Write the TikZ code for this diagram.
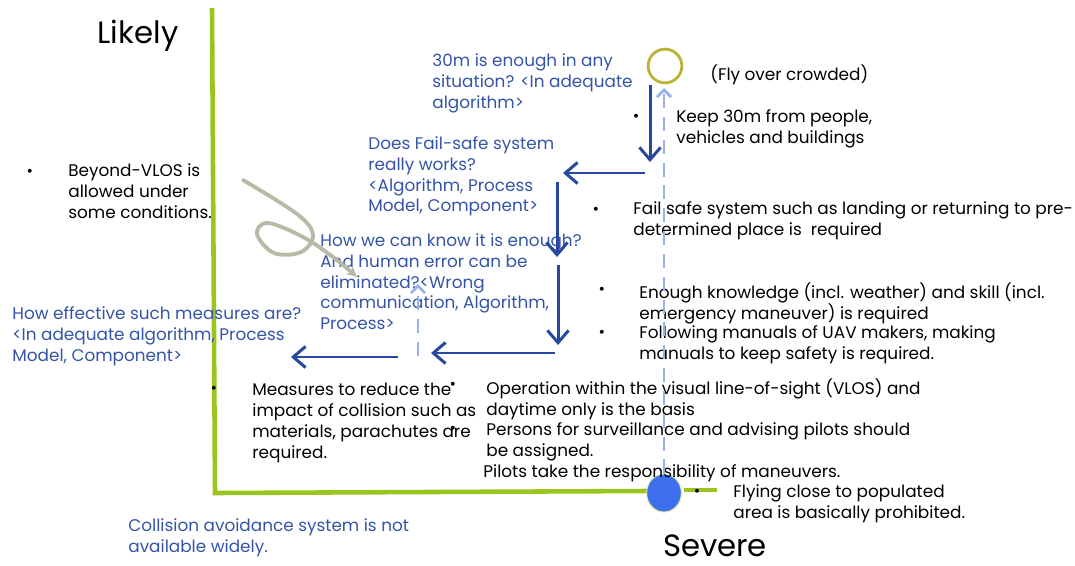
\documentclass[tikz,border=0pt]{standalone}
\usepackage{fontspec}
\setmainfont{Poppins}
\usepackage{tikz}
\usetikzlibrary{arrows.meta,calc,shapes.geometric}

\definecolor{axisgreen}{RGB}{155,197,30}
\definecolor{qblue}{RGB}{52,84,168}
\definecolor{darrow}{RGB}{40,72,160}
\definecolor{larrow}{RGB}{150,178,232}
\definecolor{loopgray}{RGB}{184,186,168}
\definecolor{dotblue}{RGB}{62,112,238}

\begin{document}
\begin{tikzpicture}[x=0.02cm, y=-0.02cm,
  txt/.style = {anchor=north west, inner sep=0pt, align=left, font=\fontsize{9.6}{11.9}\selectfont},
  qtxt/.style = {txt, text=qblue},
  bigtxt/.style = {inner sep=0pt, font=\fontsize{17.5}{19}\selectfont},
  bul/.style = {inner sep=0pt, font=\fontsize{9}{10}\selectfont},
  flow/.style = {draw=darrow, line width=1.7pt, -{Straight Barb[length=7pt,width=12pt]}},
  back/.style = {draw=larrow, line width=1.6pt, dash pattern=on 8pt off 5pt, -{Straight Barb[length=4pt,width=8pt]}}
  ]

\useasboundingbox (0,0) rectangle (1075,565);

% axes
\coordinate (top) at (212,8);
\coordinate (corner) at (215,493);
\coordinate (gapL) at (647,491);
\coordinate (gapR) at (684,490);
\coordinate (endR) at (717,490);
\draw[axisgreen, line width=2.6pt] (top) -- (corner) -- (gapL);
\draw[axisgreen, line width=2.6pt] (gapR) -- (endR);

\node[bigtxt] (likely) at (138,36) {Likely};
\node[bigtxt] (severe) at (715,546) {Severe};

% start and end points
\node[circle, draw=olive!45!yellow!70!gray, line width=1.6pt, minimum size=32pt*0.6, inner sep=0pt] (start) at (665,66) {};
\node[ellipse, fill=dotblue, draw=axisgreen!40, line width=0.6pt, minimum width=33pt*0.6, minimum height=36pt*0.6, inner sep=0pt] (finish) at (664,493) {};

%%%%%%%%%%%%%%%%%%%%%%%%%%%%%%%%

% texts right
\node[txt] (fly) at (710,64) {(Fly over crowded)};
\node[bul] (b1) at (636,118) {\textbullet};
\node[txt] (keep) at (676,109) {Keep 30m from people,\\vehicles and buildings};
\node[bul] (b2) at (596,211) {\textbullet};
\node[txt] (failsafe) at (633,201) {Fail safe system such as landing or returning to pre-\\determined place is\ \ required};
\node[bul] (b3) at (602,291) {\textbullet};
\node[txt] (knowledge) at (639,282) {Enough knowledge (incl. weather) and skill (incl.\\emergency maneuver) is required};
\node[bul] (b4) at (602,334) {\textbullet};
\node[txt] (manuals) at (639,325) {Following manuals of UAV makers, making\\manuals to keep safety is required.};
\node[bul] (b5) at (453,386) {\textbullet};
\node[bul] (b6) at (453,430) {\textbullet};
\node[txt] (vlos) at (486,378) {Operation within the visual line-of-sight (VLOS) and\\daytime only is the basis\\Persons for surveillance and advising pilots should\\be assigned.};
\node[txt] (pilots) at (483,464) {Pilots take the responsibility of maneuvers.};
\node[bul] (b7) at (697,493) {\textbullet};
\node[txt] (populated) at (733,484) {Flying close to populated\\area is basically prohibited.};

% texts left
\node[bul] (b8) at (30,173) {\textbullet};
\node[txt] (beyond) at (68,163) {Beyond-VLOS is\\allowed under\\some conditions.};
\node[bul] (b9) at (214,390) {\textbullet};
\node[txt] (measures) at (252,383) {Measures to reduce the\\impact of collision such as\\materials, parachutes are\\required.};

% questions
\node[qtxt] (q30m) at (432,53) {30m is enough in any\\situation? <In adequate\\algorithm>};
\node[qtxt] (qfail) at (368,136) {Does Fail-safe system\\really works?\\<Algorithm, Process\\Model, Component>};
\node[qtxt] (qenough) at (320,233) {How we can know it is enough?\\And human error can be\\eliminated?<Wrong\\communication, Algorithm,\\Process>};
\node[qtxt] (qeffect) at (12,306) {How effective such measures are?\\<In adequate algorithm, Process\\Model, Component>};
\node[qtxt] (qcoll) at (128,518) {Collision avoidance system is not\\available widely.};

%%%%%%%%%%%%%%%%%%%%%%%%%%%%%%%%

% flow of the scenario
\coordinate (f1a) at (650,85);
\coordinate (f1b) at (650,162);
\coordinate (f2a) at (645,173);
\coordinate (f2b) at (563,173);
\coordinate (f3a) at (557,182);
\coordinate (f3b) at (557,257);
\coordinate (f4a) at (558,265);
\coordinate (f4b) at (558,345);
\coordinate (f5a) at (555,353);
\coordinate (f5b) at (431,353);
\coordinate (f6a) at (398,357);
\coordinate (f6b) at (291,357);
\draw[flow] (f1a) -- (f1b);
\draw[flow] (f2a) -- (f2b);
\draw[flow] (f3a) -- (f3b);
\draw[flow] (f4a) -- (f4b);
\draw[flow] (f5a) -- (f5b);
\draw[flow] (f6a) -- (f6b);

% way back
\coordinate (r1) at (664,88);
\coordinate (r2a) at (418,356);
\coordinate (r2b) at (418,284);
\draw[back] (finish.north) -- (r1);
\draw[back] (r2a) -- (r2b);

% loop
\coordinate (l0) at (243,180);
\coordinate (l9) at (357,277);
\draw[loopgray, line width=2.2pt, line cap=round, -{Stealth[length=6pt,width=6pt]}] plot[smooth, tension=0.6] coordinates {(l0) (297,214) (313,235) (301,252) (274,253) (257,234) (268,223) (303,237) (333,257) (l9)};

\end{tikzpicture}
\end{document}
